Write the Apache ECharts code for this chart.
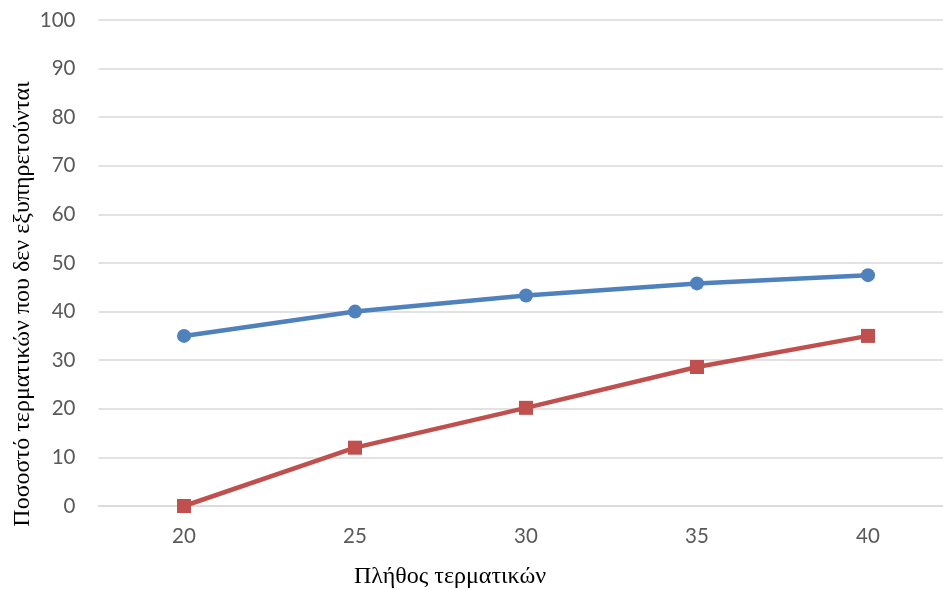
<!DOCTYPE html>
<html>
<head>
<meta charset="utf-8">
<style>
  html, body { margin: 0; padding: 0; background: #fff; overflow: hidden; }
  /* the plot runs a little past the right edge of the window */
  #chart { width: 954px; height: 590px; }
</style>
<script src="https://cdn.jsdelivr.net/npm/echarts@6/dist/echarts.min.js"></script>
</head>
<body>
<div id="chart"></div>
<script>
// Number of terminals on the horizontal axis
const terminals = ['20', '25', '30', '35', '40'];
// Percentage of terminals not served, two scenarios
const seriesBlue = [35, 40, 43.3, 45.8, 47.5];
const seriesRed = [0, 12, 20.2, 28.6, 35];
const yTicks = { min: 0, max: 100, interval: 10 };

const xTitle = 'Πλήθος τερματικών';
const yTitle = 'Ποσοστό τερματικών που δεν εξυπηρετούνται';

const chart = echarts.init(document.getElementById('chart'), null, { renderer: 'canvas' });

const labelFont = { fontFamily: 'Lato, "Open Sans", sans-serif', fontSize: 20.5, color: '#595959' };
const titleFont = { fontFamily: '"Liberation Serif", "DejaVu Serif", serif', fontSize: 24, fill: '#000' };

chart.setOption({
  animation: false,
  grid: { left: 98.5, right: 0.5, top: 20, bottom: 84, containLabel: false },
  xAxis: {
    type: 'category',
    data: terminals,
    boundaryGap: true,
    axisLine: { show: true, lineStyle: { color: '#D9D9D9', width: 1.5 } },
    axisTick: { show: false },
    axisLabel: Object.assign({ margin: 20 }, labelFont)
  },
  yAxis: {
    type: 'value',
    min: yTicks.min,
    max: yTicks.max,
    interval: yTicks.interval,
    axisLine: { show: false },
    axisTick: { show: false },
    splitLine: { show: true, lineStyle: { color: '#D9D9D9', width: 1.5 } },
    axisLabel: Object.assign({ margin: 23 }, labelFont)
  },
  series: [
    {
      type: 'line',
      data: seriesBlue,
      symbol: 'circle',
      symbolSize: 14,
      lineStyle: { color: '#4F81BD', width: 4.5 },
      itemStyle: { color: '#4F81BD' }
    },
    {
      type: 'line',
      data: seriesRed,
      symbol: 'rect',
      symbolSize: 14,
      lineStyle: { color: '#C0504D', width: 4.5 },
      itemStyle: { color: '#C0504D' }
    }
  ],
  graphic: [
    {
      type: 'text',
      x: 450,
      y: 577,
      style: Object.assign({ text: xTitle, textAlign: 'center', textVerticalAlign: 'middle' }, titleFont)
    },
    {
      type: 'text',
      rotation: Math.PI / 2,
      x: 23,
      y: 304,
      style: Object.assign({ text: yTitle, textAlign: 'center', textVerticalAlign: 'middle' }, titleFont)
    }
  ]
});
</script>
</body>
</html>
